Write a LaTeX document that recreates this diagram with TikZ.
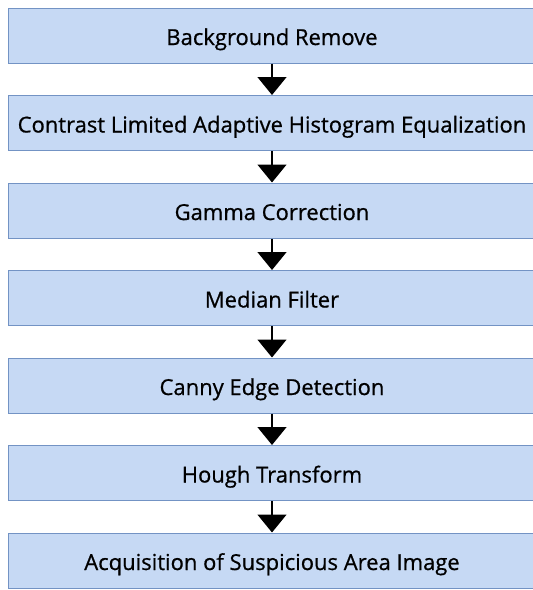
\documentclass[tikz,border=0pt]{standalone}
\usepackage{fontspec}
\setmainfont{Open Sans}[FakeBold=0.7]
\usetikzlibrary{arrows.meta, positioning}
\definecolor{stagefill}{HTML}{C6D9F4}
\definecolor{stageline}{HTML}{7393C4}

\begin{document}
\begin{tikzpicture}[node distance=31.5pt, >={Triangle[width=29pt, length=18pt]}, font=\fontsize{22}{26}\selectfont,
    stage/.style={draw=stageline, fill=stagefill, line width=1pt, minimum width=528pt, minimum height=55pt, inner sep=0pt,
        text height=25pt, text depth=6pt}]
    \useasboundingbox (0,0) rectangle (533pt,-590pt);
    \node[stage] (bg) at (272pt,-35.5pt) {Background Remove};
    \node[stage, below=of bg] (clahe) {Contrast Limited Adaptive Histogram Equalization};
    \node[stage, below=of clahe] (gamma) {Gamma Correction};
    \node[stage, below=of gamma] (median) {Median Filter};
    \node[stage, below=of median] (canny) {Canny Edge Detection};
    \node[stage, below=of canny] (hough) {Hough Transform};
    \node[stage, below=of hough] (area) {Acquisition of Suspicious Area Image};

    \draw[->, line width=1.5pt] (bg) -- (clahe);
    \draw[->, line width=1.5pt] (clahe) -- (gamma);
    \draw[->, line width=1.5pt] (gamma) -- (median);
    \draw[->, line width=1.5pt] (median) -- (canny);
    \draw[->, line width=1.5pt] (canny) -- (hough);
    \draw[->, line width=1.5pt] (hough) -- (area);
\end{tikzpicture}
\end{document}
